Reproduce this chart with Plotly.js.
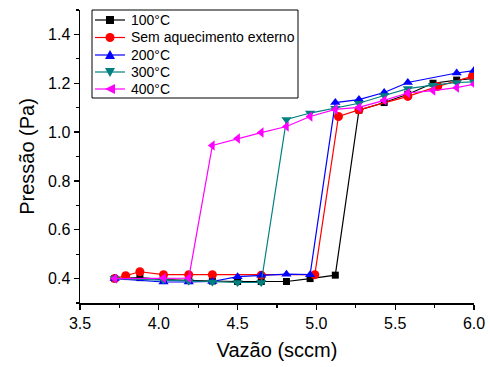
<!DOCTYPE html>
<html>
<head>
<meta charset="utf-8">
<script src="https://cdn.plot.ly/plotly-3.0.1.min.js"></script>
<style>html,body{margin:0;padding:0;background:#fff;}#chart{width:490px;height:367px;}</style>
</head>
<body>
<div id="chart"></div>
<script>
// Data
const names = ["100°C", "Sem aquecimento externo", "200°C", "300°C", "400°C"];
const x100 = [3.72, 3.88, 4.03, 4.19, 4.34, 4.50, 4.65, 4.81, 4.96, 5.12, 5.27, 5.43, 5.58, 5.74, 5.89, 6.00];
const y100 = [0.400, 0.404, 0.396, 0.392, 0.390, 0.388, 0.388, 0.388, 0.400, 0.414, 1.090, 1.121, 1.155, 1.200, 1.213, 1.220];
const xSem = [3.72, 3.79, 3.88, 4.03, 4.19, 4.34, 4.65, 4.99, 5.14, 5.27, 5.58, 5.77, 5.99];
const ySem = [0.400, 0.412, 0.428, 0.416, 0.416, 0.416, 0.414, 0.416, 1.064, 1.091, 1.146, 1.187, 1.228];
const x200 = [3.72, 4.03, 4.19, 4.34, 4.50, 4.65, 4.81, 4.96, 5.12, 5.27, 5.43, 5.58, 5.89, 6.00];
const y200 = [0.400, 0.386, 0.386, 0.388, 0.408, 0.414, 0.418, 0.416, 1.121, 1.133, 1.162, 1.203, 1.242, 1.252];
const x300 = [3.72, 4.03, 4.19, 4.34, 4.50, 4.65, 4.81, 4.96, 5.12, 5.27, 5.43, 5.58, 5.74, 5.89, 6.00];
const y300 = [0.400, 0.394, 0.390, 0.386, 0.384, 0.384, 1.052, 1.078, 1.098, 1.118, 1.150, 1.178, 1.192, 1.203, 1.206];
const x400 = [3.72, 4.03, 4.19, 4.34, 4.50, 4.65, 4.81, 4.96, 5.12, 5.27, 5.43, 5.58, 5.74, 5.89, 6.00];
const y400 = [0.400, 0.402, 0.402, 0.945, 0.974, 0.998, 1.023, 1.064, 1.093, 1.101, 1.130, 1.160, 1.170, 1.182, 1.196];

const xTitle = "Vazão (sccm)";
const yTitle = "Pressão (Pa)";

const xs = [x100, xSem, x200, x300, x400];
const ys = [y100, ySem, y200, y300, y400];
const colors = ["#000000", "#ff0000", "#0000ff", "#008080", "#ff00ff"];
const symbols = ["square", "circle", "triangle-up", "triangle-down", "triangle-left"];
const sizes = [7, 9, 9, 9, 9];

const traces = names.map((n, i) => ({
  type: "scatter",
  mode: "lines+markers",
  name: n,
  x: xs[i],
  y: ys[i],
  line: {color: colors[i], width: 1.2},
  marker: {color: colors[i], symbol: symbols[i], size: sizes[i]},
  cliponaxis: true
}));

const font = "Liberation Sans, Arial, sans-serif";
const W = 490, H = 367;
const M = {l: 80, r: 16, t: 10, b: 64};
const pw = W - M.l - M.r, ph = H - M.t - M.b;
const px2x = p => (p - M.l) / pw;
const py2y = p => (H - M.b - p) / ph;

// Hand-built compact legend (Origin style)
const shapes = [];
const annotations = [];
const box = {x0: 92, x1: 298, y0: 10, y1: 98};
shapes.push({type: "rect", xref: "paper", yref: "paper",
  x0: px2x(box.x0), x1: px2x(box.x1), y0: py2y(box.y1), y1: py2y(box.y0),
  line: {color: "#000", width: 1}, fillcolor: "#fff", layer: "above"});
const rowY = [20, 37.5, 55, 72, 89];
const markerPaths = {
  "square": "M-4,-4 L4,-4 L4,4 L-4,4 Z",
  "triangle-up": "M-5,-4 L5,-4 L0,5 Z",
  "triangle-down": "M-5,4 L5,4 L0,-5 Z",
  "triangle-left": "M5,-5 L5,5 L-5,0 Z"
};
names.forEach((n, i) => {
  const yy = py2y(rowY[i]);
  shapes.push({type: "line", xref: "paper", yref: "paper",
    x0: px2x(95), x1: px2x(125), y0: yy, y1: yy,
    line: {color: colors[i], width: 1.2}, layer: "above"});
  if (symbols[i] === "circle") {
    shapes.push({type: "circle", xref: "paper", yref: "paper",
      xsizemode: "pixel", ysizemode: "pixel", xanchor: px2x(110), yanchor: yy,
      x0: -4.5, x1: 4.5, y0: -4.5, y1: 4.5,
      line: {width: 0}, fillcolor: colors[i], layer: "above"});
  } else {
    shapes.push({type: "path", xref: "paper", yref: "paper",
      xsizemode: "pixel", ysizemode: "pixel", xanchor: px2x(110), yanchor: yy,
      path: markerPaths[symbols[i]],
      line: {width: 0}, fillcolor: colors[i], layer: "above"});
  }
  annotations.push({xref: "paper", yref: "paper", x: px2x(129), y: yy,
    xanchor: "left", yanchor: "middle", showarrow: false, text: n,
    font: {family: font, size: 14, color: "#000"}});
});

const axisCommon = {
  showgrid: false,
  zeroline: false,
  showline: true,
  linecolor: "#000",
  linewidth: 1.5,
  ticks: "outside",
  ticklen: 5,
  tickwidth: 1.2,
  tickcolor: "#000",
  tickfont: {family: font, size: 16, color: "#000"},
  mirror: false
};

const layout = {
  width: W,
  height: H,
  margin: M,
  paper_bgcolor: "#fff",
  plot_bgcolor: "#fff",
  showlegend: false,
  shapes: shapes,
  annotations: annotations,
  xaxis: Object.assign({}, axisCommon, {
    range: [3.5, 6.0],
    dtick: 0.5,
    tick0: 3.5,
    tickformat: ".1f",
    minor: {dtick: 0.25, ticks: "outside", ticklen: 3, tickcolor: "#000", showgrid: false},
    title: {text: xTitle, font: {family: font, size: 20, color: "#000"}, standoff: 12}
  }),
  yaxis: Object.assign({}, axisCommon, {
    range: [0.3, 1.5],
    dtick: 0.2,
    tick0: 0.4,
    tickformat: ".1f",
    minor: {dtick: 0.1, ticks: "outside", ticklen: 3, tickcolor: "#000", showgrid: false},
    title: {text: yTitle, font: {family: font, size: 20, color: "#000"}, standoff: 8}
  })
};

Plotly.newPlot("chart", traces, layout, {displayModeBar: false, staticPlot: true});
</script>
</body>
</html>
